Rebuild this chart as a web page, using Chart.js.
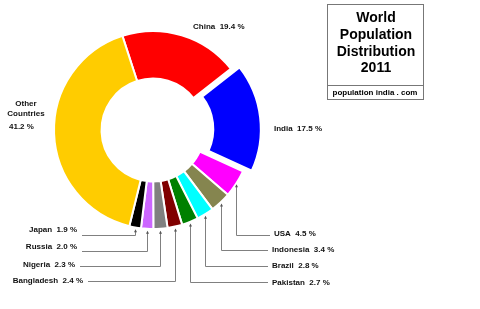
<!DOCTYPE html>
<html>
<head>
<meta charset="utf-8">
<script src="https://cdn.jsdelivr.net/npm/chart.js@4"></script>
<style>
  html, body { margin: 0; padding: 0; background: #fff; }
  canvas { display: block; }
</style>
</head>
<body>
<canvas id="popChart" width="480" height="309"></canvas>
<script>
const countries = ['China', 'India', 'USA', 'Indonesia', 'Brazil', 'Pakistan', 'Bangladesh', 'Nigeria', 'Russia', 'Japan', 'Other Countries'];
const shares = [19.4, 17.5, 4.5, 3.4, 2.8, 2.7, 2.4, 2.3, 2.0, 1.9, 41.2];
const sliceColors = ['#ff0000', '#0000ff', '#ff00ff', '#85854f', '#00ffff', '#008000', '#800000', '#808080', '#cc66ff', '#000000', '#ffcc00'];
const titleLines = ['World', 'Population', 'Distribution', '2011'];
const sourceText = 'population india . com';

// label placement: text position, and for the small slices the y of the leader's elbow
const labelSpots = [
  { x: 193, y: 27, align: 'left' },                 // China
  { x: 274, y: 129, align: 'left' },                // India
  { x: 274, y: 234, align: 'left', lineY: 235 },    // USA
  { x: 272, y: 250, align: 'left', lineY: 250 },    // Indonesia
  { x: 272, y: 266, align: 'left', lineY: 266 },    // Brazil
  { x: 272, y: 283, align: 'left', lineY: 282 },    // Pakistan
  { x: 83, y: 281, align: 'right', lineY: 281 },    // Bangladesh
  { x: 75, y: 265, align: 'right', lineY: 266 },    // Nigeria
  { x: 77, y: 247, align: 'right', lineY: 251 },    // Russia
  { x: 77, y: 230, align: 'right', lineY: 235 },    // Japan
  null                                              // Other Countries, drawn by hand
];

const labelFont = 'bold 8px "Liberation Sans", Arial, sans-serif';

const labelsPlugin = {
  id: 'popLabels',
  afterDraw(chart) {
    const ctx = chart.ctx;
    const arcs = chart.getDatasetMeta(0).data;
    ctx.save();
    ctx.font = labelFont;
    ctx.textBaseline = 'middle';
    ctx.fillStyle = '#111';

    arcs.forEach((arc, i) => {
      const spot = labelSpots[i];
      if (!spot) return;
      const text = countries[i] + '  ' + shares[i].toFixed(1) + ' %';
      ctx.textAlign = spot.align;
      ctx.fillText(text, spot.x, spot.y);

      if (spot.lineY === undefined) return;
      const p = arc.getProps(['x', 'y', 'startAngle', 'endAngle', 'outerRadius'], true);
      const mid = (p.startAngle + p.endAngle) / 2;
      const ax = Math.round(p.x + p.outerRadius * Math.cos(mid)) + 0.5;
      const ay = p.y + (p.outerRadius + 3) * Math.sin(mid);
      const endX = spot.align === 'left' ? spot.x - 4 : spot.x + 5;
      const ly = spot.lineY + 0.5;

      ctx.strokeStyle = '#808080';
      ctx.lineWidth = 1;
      ctx.beginPath();
      ctx.moveTo(ax, ay);
      ctx.lineTo(ax, ly);
      ctx.lineTo(endX, ly);
      ctx.stroke();
      // tiny arrow tip
      ctx.fillStyle = '#555';
      ctx.beginPath();
      ctx.moveTo(ax, ay - 1);
      ctx.lineTo(ax - 1.5, ay + 2);
      ctx.lineTo(ax + 1.5, ay + 2);
      ctx.closePath();
      ctx.fill();
      ctx.fillStyle = '#111';
    });

    // Other Countries
    const last = shares.length - 1;
    ctx.textAlign = 'center';
    ctx.fillText('Other', 26, 104);
    ctx.fillText('Countries', 26, 114);
    ctx.textAlign = 'left';
    ctx.fillText(shares[last].toFixed(1) + ' %', 9, 127);

    // title box
    ctx.strokeStyle = '#777';
    ctx.lineWidth = 1;
    ctx.strokeRect(327.5, 4.5, 96, 95);
    ctx.beginPath();
    ctx.moveTo(327.5, 85.5);
    ctx.lineTo(423.5, 85.5);
    ctx.stroke();

    ctx.fillStyle = '#000';
    ctx.textAlign = 'center';
    ctx.font = 'bold 14px "Liberation Sans", Arial, sans-serif';
    titleLines.forEach((line, k) => {
      ctx.fillText(line, 376, 18.5 + k * 16.7);
    });
    ctx.font = labelFont;
    ctx.fillText(sourceText, 375, 92.5);
    ctx.restore();
  }
};

const ctx = document.getElementById('popChart').getContext('2d');
new Chart(ctx, {
  type: 'doughnut',
  data: {
    labels: countries,
    datasets: [{
      data: shares,
      backgroundColor: sliceColors,
      borderColor: '#ffffff',
      borderWidth: 2,
      hoverBorderWidth: 2,
      // chart.js v4 draws offset/4, so 32 -> 8px pull-out
      offset: countries.map(c => c === 'India' ? 32 : 0),
      hoverOffset: 0,
    }],
  },
  options: {
    responsive: false,
    animation: false,
    rotation: -18,
    cutout: '52%',
    layout: { padding: { left: 37, top: 14, right: 211, bottom: 63 } },
    plugins: {
      legend: { display: false },
      tooltip: { enabled: false },
      title: { display: false },
    },
  },
  plugins: [labelsPlugin],
});
</script>
</body>
</html>
